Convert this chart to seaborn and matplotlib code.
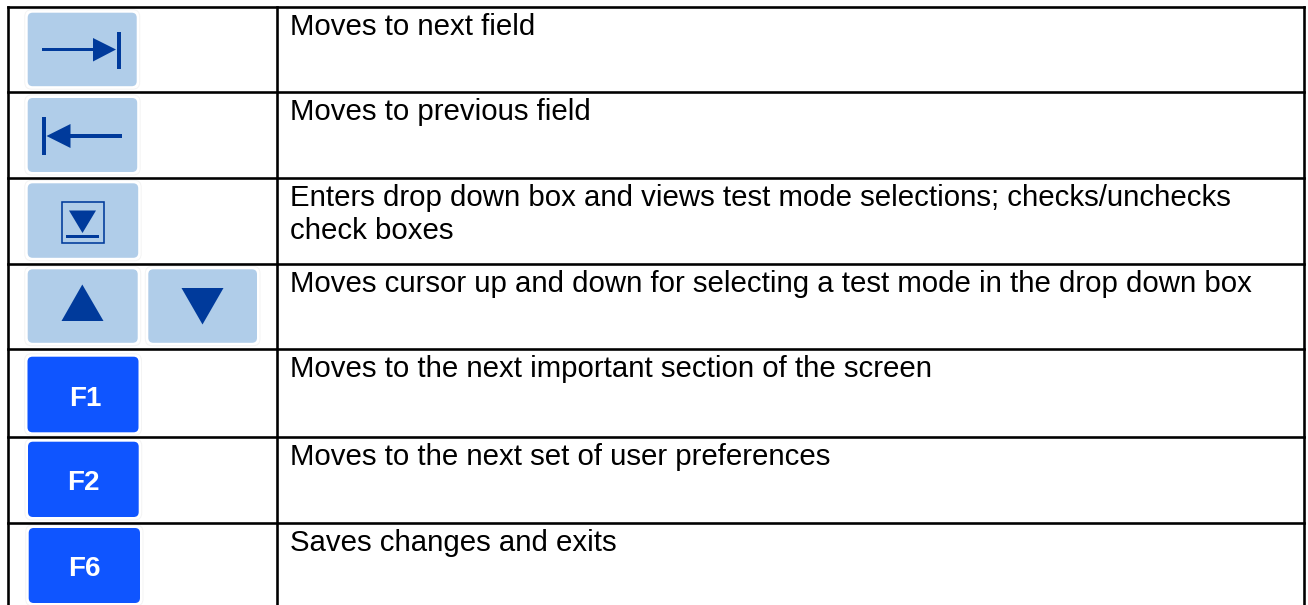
import matplotlib
matplotlib.use("Agg")
import matplotlib.pyplot as plt
from matplotlib.patches import FancyBboxPatch, Polygon, Rectangle
import pandas as pd
import seaborn as sns

# table content
descriptions = [
    ["Moves to next field"],
    ["Moves to previous field"],
    ["Enters drop down box and views test mode selections; checks/unchecks", "check boxes"],
    ["Moves cursor up and down for selecting a test mode in the drop down box"],
    ["Moves to the next important section of the screen"],
    ["Moves to the next set of user preferences"],
    ["Saves changes and exits"],
]
fkey_labels = ["F1", "F2", "F6"]

# layout, in pixels of the 1308x605 picture
row_lines = [6.8, 91.7, 177.7, 263.5, 349, 436.7, 522.7]
col_lines = [8, 277, 1303.7]
pale_keys = [(27.7, 12.7, 109, 73.5), (27.7, 98, 109.5, 74), (27.7, 183.3, 110.5, 74.5),
             (27.7, 269.3, 110, 73.5), (148.3, 269.3, 108.7, 73.5)]
fkeys = [(27.5, 356.7, 111, 75.6), (28, 441.7, 110.7, 75.3), (28.7, 528, 111.3, 75)]
fkey_shift = [2, 0.3, 0.4]

PALE = "#b0cde9"
DARK = "#003a9b"
BRIGHT = "#0f55ff"

sns.set_theme(style="white")
plt.rcParams["font.family"] = ["Liberation Sans", "DejaVu Sans"]


def px(w):
    return w * 72 / 100


def draw_key(ax, box, color):
    x, y, w, h = box
    halo = FancyBboxPatch((x - 3, y - 3), w + 6, h + 6, boxstyle="round,pad=0,rounding_size=7",
                          fc="white", ec="#f4f4f4", lw=px(1), zorder=1)
    key = FancyBboxPatch((x, y), w, h, boxstyle="round,pad=0,rounding_size=5",
                         fc=color, ec="none", zorder=2)
    ax.add_patch(halo)
    ax.add_patch(key)


def tri(ax, pts):
    ax.add_patch(Polygon(pts, closed=True, fc=DARK, ec="none", zorder=3))


def bar(ax, x, y, w, h):
    ax.add_patch(Rectangle((x, y), w, h, fc=DARK, ec="none", zorder=3))


fig = plt.figure(figsize=(13.08, 6.05), dpi=100, facecolor="white")
ax = fig.add_axes([0, 0, 1, 1])

# table rules
rules = []
for i, y in enumerate(row_lines):
    rules += [dict(x=col_lines[0], y=y, rule=f"r{i}"), dict(x=col_lines[-1], y=y, rule=f"r{i}")]
for i, x in enumerate(col_lines):
    rules += [dict(x=x, y=row_lines[0], rule=f"c{i}"), dict(x=x, y=605, rule=f"c{i}")]
rules = pd.DataFrame(rules)
sns.lineplot(data=rules, x="x", y="y", units="rule", estimator=None, sort=False,
             color="black", lw=px(2.6), ax=ax, zorder=5, solid_capstyle="projecting")

for box in pale_keys:
    draw_key(ax, box, PALE)
for box in fkeys:
    draw_key(ax, box, BRIGHT)

# next field
bar(ax, 42, 48, 52, 3.2)
tri(ax, [(93, 38), (93, 61.5), (116, 49.5)])
bar(ax, 116.7, 31.5, 4.3, 37.5)
# previous field
bar(ax, 42, 117, 4.3, 38)
tri(ax, [(46.5, 136), (70.5, 124), (70.5, 148)])
bar(ax, 70, 134.4, 52, 3.2)
# drop down
ax.add_patch(Rectangle((61.8, 201.8), 41.7, 41, fc="none", ec=DARK, lw=px(1.6), zorder=3))
tri(ax, [(69, 210.5), (96, 210.5), (82.5, 233)])
bar(ax, 66, 234.5, 33, 3.5)
# up and down
tri(ax, [(61.5, 321), (103.5, 321), (82.3, 284.5)])
tri(ax, [(181.5, 288), (223.5, 288), (202.5, 324.5)])

for label, shift, (x, y, w, h) in zip(fkey_labels, fkey_shift, fkeys):
    ax.text(x + w / 2 + shift, y + h / 2 + 11, label, color="white", fontsize=20, fontweight="bold",
            ha="center", va="baseline", zorder=4)

for y, lines in zip(row_lines, descriptions):
    for k, line in enumerate(lines):
        ax.text(290.5, y + 28 + 33.5 * k, line, color="black", fontsize=21.2,
                ha="left", va="baseline", zorder=4)

ax.set_xlim(0, 1308)
ax.set_ylim(605, 0)
ax.set_xlabel("")
ax.set_ylabel("")
ax.axis("off")
fig.savefig("out.png", dpi=100, facecolor="white")
